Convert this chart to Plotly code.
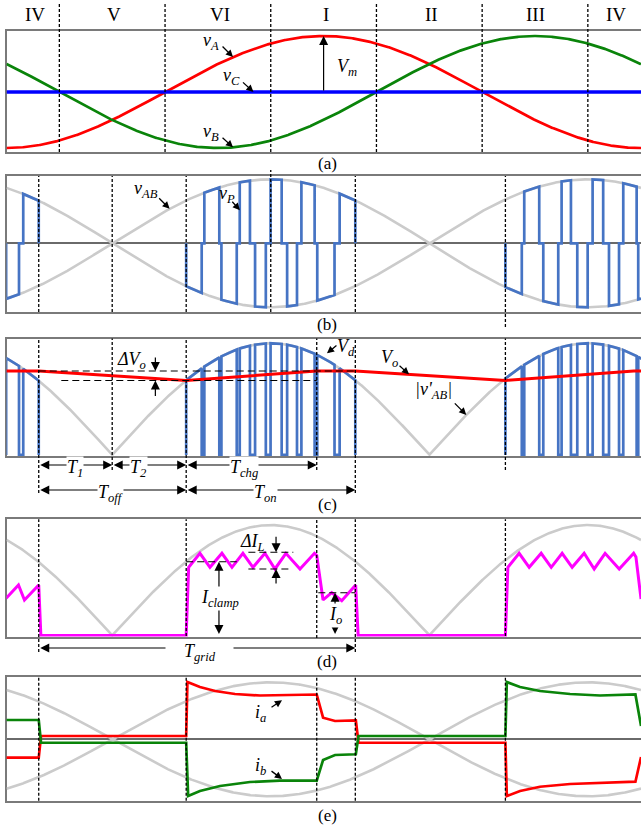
import numpy as np
import plotly.graph_objects as go

W, H = 641, 827
SERIF = "Liberation Serif"

# ---------------- data ----------------
# electrical angle in degrees, 0 deg at the positive peak of v_A
THETA_MIN, THETA_MAX = -180.0, 180.17
theta = np.linspace(THETA_MIN, THETA_MAX, 1441)

# grid phase voltages (per unit of V_m)
VM = 1.0
LAG_A = 0.0
LAG_B = 120.0
V_C = 0.0
# line-to-line voltage v_AB = sqrt(3)*Vm*cos(theta + 30 deg), shown normalised
LEAD_AB = 30.0

# sectors
SECTOR_EDGES = [-150, -90, -30, 30, 90, 150]
SECTOR_NAMES = ["IV", "V", "VI", "I", "II", "III", "IV"]
SECTOR_MIDS = [-164, -119, -59, 1.5, 61, 120.5, 166]

# switching instants (deg)
T_OFF_START = -161.7
T_ZERO = -120.0
T_ON_START = -78.0
T_PEAK_AB = -30.0
T_CHG_END = -3.9
T_ON_END = 18.0
T_ON_START_2 = 103.2

# PWM pulses of v_P: (start, end, polarity)
PULSES = [
    [(-180.2, -172.9, -1), (-170.5, -161.7, 1)],
    [(-78.0, -69.2, -1), (-67.7, -59.2, 1), (-58.0, -49.3, -1), (-47.6, -41.8, 1),
     (-38.9, -32.8, -1), (-30.1, -23.8, 1), (-20.7, -15.1, -1), (-12.6, -5.1, 1),
     (-3.6, 6.2, -1), (9.1, 18.0, 1)],
    [(103.2, 112.5, -1), (113.9, 122.4, 1), (124.7, 133.2, -1), (135.1, 140.4, 1),
     (144.0, 149.9, -1), (152.7, 158.7, 1), (162.0, 167.7, -1), (170.1, 177.7, 1),
     (178.6, 185.0, -1)],
]

# output voltage V_o (normalised to the |v'_AB| peak)
VO_T = [-180.2, -161.7, -78.0, -3.9, 18.0, 103.2, 176.1, 180.2]
VO_V = [0.752, 0.752, 0.667, 0.752, 0.752, 0.667, 0.752, 0.752]
DVO_LINE_START = -148.9

# inductor current i_L
IL_T = [-180.2, -173.2, -169.8, -161.7, -160.5,
        -78.0, -76.6, -70.2, -64.5, -57.7, -52.0, -45.8, -40.1, -33.3, -27.6,
        -21.4, -13.4, -5.2, -3.9,
        -0.3, 4.6, 10.3, 18.2, 19.6,
        103.2, 104.6, 111.0, 116.7, 123.5, 129.2, 135.4, 141.1, 147.9, 153.6,
        159.8, 167.8, 176.0, 177.3, 180.2]
IL_V = [0.337, 0.457, 0.321, 0.457, 0.0,
        0.0, 0.617, 0.744, 0.617, 0.744, 0.617, 0.744, 0.617, 0.744, 0.602,
        0.744, 0.602, 0.744, 0.725,
        0.321, 0.387, 0.315, 0.457, 0.0,
        0.0, 0.617, 0.744, 0.617, 0.744, 0.617, 0.744, 0.617, 0.744, 0.602,
        0.744, 0.602, 0.744, 0.71, 0.33]
I_CLAMP = 0.668
IL_UPPER = 0.753
IL_LOWER = 0.602
I_O = 0.387

# grid-side currents i_a, i_b (normalised to the v_AB peak scale)
IA_T = [-180.2, -161.7, -160.4, -78.0, -77.3, -70.2, -61.6, -50.3, -36.1, -19.1,
        -3.9, -0.3, 6.5, 18.3, 19.8, 103.2, 104.0, 111.5, 122.8, 139.9, 156.9,
        177.0, 180.2]
IA_V = [-0.323, -0.323, 0.058, 0.058, 1.005, 0.918, 0.847, 0.795, 0.768, 0.777,
        0.786, 0.379, 0.321, 0.33, -0.06, -0.06, -0.995, -0.907, -0.832, -0.784,
        -0.761, -0.744, -0.31]
IB_T = [-180.2, -162.4, -161.7, -160.4, -78.0, -76.9, -70.2, -58.8, -41.8, -24.8,
        -3.9, -0.3, 6.5, 18.3, 19.8, 103.2, 104.0, 111.5, 122.8, 139.9, 156.9,
        177.0, 180.2]
IB_V = [0.339, 0.351, 0.339, -0.06, -0.06, -0.995, -0.907, -0.819, -0.749, -0.726,
        -0.726, -0.363, -0.275, -0.263, 0.058, 0.058, 1.005, 0.918, 0.847, 0.795,
        0.768, 0.786, 0.233]


# ---------------- waveforms ----------------
def v_a(t):
    return VM * np.cos(np.radians(np.asarray(t) - LAG_A))


def v_b(t):
    return VM * np.cos(np.radians(np.asarray(t) - LAG_B))


def v_ab(t):
    return np.cos(np.radians(np.asarray(t) + LEAD_AB))


def env(t):
    return np.abs(v_ab(t))


def pulse_path(sets, rectify):
    xs, ys = [], []
    for pulses in sets:
        for t0, t1, pol in pulses:
            sign = 1.0 if rectify else float(pol)
            tt = np.linspace(t0, t1, 10)
            xs += [t0] + list(tt) + [t1]
            ys += [0.0] + list(sign * env(tt)) + [0.0]
        xs.append(None)
        ys.append(None)
    return xs, ys


# ---------------- panel geometry ----------------
# (top px, bottom px, y-range)
PANELS = [
    (31.0, 152.0, (-1.0714, 1.0893)),
    (176.0, 312.0, (-1.0734, 1.0516)),
    (338.5, 456.0, (-0.01, 1.043)),
    (519.3, 636.5, (-0.01, 1.052)),
    (677.3, 800.7, (-1.077, 1.0877)),
]
XR = ["x", "x2", "x3", "x4", "x5"]
YR = ["y", "y2", "y3", "y4", "y5"]
X_DOMAIN = [6.5 / W, 1.0]
DEG_PER_PX = (THETA_MAX - THETA_MIN) / (W * (X_DOMAIN[1] - X_DOMAIN[0]))


def P(py):
    return 1.0 - py / H


def units_per_px(k):
    top, bottom, yr = PANELS[k]
    return (yr[1] - yr[0]) / (bottom - top)


GRAY = "#cbcbcb"
FRAME = "#7a7a7a"
BLUE = "#4674c4"
RED = "#ff0000"
GREEN = "#0a840a"
MAGENTA = "#ff00ff"

fig = go.Figure()


def add_line(k, x, y, color, width):
    fig.add_trace(go.Scatter(x=x, y=y, mode="lines", xaxis=XR[k], yaxis=YR[k],
                             line=dict(color=color, width=width),
                             hoverinfo="skip", showlegend=False))


# (a) phase voltages
add_line(0, theta, v_a(theta), RED, 2.7)
add_line(0, theta, v_b(theta), GREEN, 2.7)
add_line(0, [THETA_MIN, THETA_MAX], [V_C, V_C], "#0000ff", 3.5)

# (b) v_AB and v_P
add_line(1, theta, v_ab(theta), GRAY, 2.6)
add_line(1, theta, -v_ab(theta), GRAY, 2.6)
bx, by = pulse_path(PULSES, rectify=False)
add_line(1, bx, by, BLUE, 2.7)

# (c) |v'_AB|, rectified pulses and V_o
add_line(2, theta, env(theta), GRAY, 2.6)
cx, cy = pulse_path(PULSES, rectify=True)
add_line(2, cx, cy, BLUE, 2.7)
add_line(2, VO_T, VO_V, RED, 3.0)

# (d) inductor current
add_line(3, theta, env(theta), GRAY, 2.6)
add_line(3, IL_T, IL_V, MAGENTA, 3.0)

# (e) grid currents
add_line(4, theta, v_ab(theta), GRAY, 2.6)
add_line(4, theta, -v_ab(theta), GRAY, 2.6)
add_line(4, IA_T, IA_V, RED, 2.7)
add_line(4, IB_T, IB_V, GREEN, 2.7)

# ---------------- axes ----------------
layout_axes = {}
for k, (top, bottom, yr) in enumerate(PANELS):
    sx = "" if k == 0 else str(k + 1)
    layout_axes["xaxis" + sx] = dict(
        domain=X_DOMAIN, range=[THETA_MIN, THETA_MAX], anchor=YR[k],
        showline=True, mirror=True, linecolor=FRAME, linewidth=2,
        showgrid=False, zeroline=False, showticklabels=False, ticks="",
        layer="below traces", fixedrange=True)
    layout_axes["yaxis" + sx] = dict(
        domain=[P(bottom), P(top)], range=list(yr), anchor=XR[k],
        showline=True, mirror=False, linecolor=FRAME, linewidth=2,
        showgrid=False, zeroline=(k in (1, 4)), zerolinecolor="#6a6a6a",
        zerolinewidth=2, showticklabels=False, ticks="",
        layer="below traces", fixedrange=True)

# ---------------- shapes ----------------
shapes = []
VDASH = dict(color="black", width=1.3, dash="3px,2px")
HDASH = dict(color="black", width=1.1, dash="7px,4px")


def vdash(k, x, py0, py1):
    shapes.append(dict(type="line", xref=XR[k], yref="paper", x0=x, x1=x,
                       y0=P(py1), y1=P(py0), line=VDASH, layer="above"))


def hdash(k, y, x0, x1):
    shapes.append(dict(type="line", xref=XR[k], yref=YR[k], x0=x0, x1=x1,
                       y0=y, y1=y, line=HDASH, layer="above"))


for e in SECTOR_EDGES:
    vdash(0, e, 2, 152)

for t, a, b in [(T_OFF_START, 176, 312), (T_ZERO, 176, 312), (T_ON_START, 176, 312),
                (T_PEAK_AB, 170, 312), (T_ON_END, 176, 312), (T_ON_START_2, 176, 327)]:
    vdash(1, t, a, b)

for t, a, b in [(T_OFF_START, 338.5, 493), (T_ZERO, 338.5, 470), (T_ON_START, 338.5, 493),
                (T_CHG_END, 338.5, 470), (T_ON_END, 338.5, 493), (T_ON_START_2, 338.5, 470)]:
    vdash(2, t, a, b)

for t, a, b in [(T_OFF_START, 519.3, 652), (T_ON_START, 519.3, 636), (T_CHG_END, 519.3, 638),
                (T_ON_END, 519.3, 652), (T_ON_START_2, 519.3, 636)]:
    vdash(3, t, a, b)

for t in [T_OFF_START, T_ON_START, T_CHG_END, T_ON_END, T_ON_START_2]:
    vdash(4, t, 677.3, 800.7)

# ripple band of V_o
hdash(2, max(VO_V), T_OFF_START, T_ON_END)
hdash(2, min(VO_V), DVO_LINE_START, T_CHG_END)
# current levels
hdash(3, I_CLAMP, T_ON_START, -49.3)
hdash(3, IL_UPPER, -42.7, -17.2)
hdash(3, IL_LOWER, -42.7, -18.1)
hdash(3, I_O, -3.0, 17.8)

# ---------------- annotations ----------------
ann = []
LBL = 18
ARW = dict(arrowhead=2, arrowsize=1.5, arrowwidth=1.2, arrowcolor="black", standoff=0)
PTR = dict(arrowhead=2, arrowsize=1.1, arrowwidth=1.3, arrowcolor="black", standoff=0)


def label(xref, yref, x, y, s, size=LBL, bg=None, **kw):
    d = dict(xref=xref, yref=yref, x=x, y=y, text=s, showarrow=False,
             xanchor="center", yanchor="middle",
             font=dict(family=SERIF, size=size, color="black"), **kw)
    if bg:
        d["bgcolor"] = bg
    ann.append(d)


def arrow(xref, yref, x, y, ax, ay, axref="pixel", ayref="pixel", both=False, style=ARW):
    d = dict(xref=xref, yref=yref, x=x, y=y, ax=ax, ay=ay, axref=axref, ayref=ayref,
             text="", showarrow=True, **style)
    if both:
        d.update(arrowside="end+start", startarrowhead=2, startarrowsize=style["arrowsize"])
    ann.append(d)


def pointer(k, x, y, s, lab, tail):
    """label placed `lab` pixels from the point, arrow drawn from `tail` pixels to the point"""
    upp = units_per_px(k)
    label(XR[k], YR[k], x + lab[0] * DEG_PER_PX, y - lab[1] * upp, s)
    arrow(XR[k], YR[k], x, y, x + tail[0] * DEG_PER_PX, y - tail[1] * upp,
          axref=XR[k], ayref=YR[k], style=PTR)


# sector names
for name, mid in zip(SECTOR_NAMES, SECTOR_MIDS):
    label("x", "paper", mid, P(14.5), name, size=19)

# panel captions
for cap, py in [("(a)", 164), ("(b)", 324), ("(c)", 504), ("(d)", 661), ("(e)", 815)]:
    label("paper", "paper", 327 / W, P(py), cap, size=17)

# (a)
pointer(0, -51.4, float(v_a(-51.4)), "<i>v<sub>A</sub></i>", (-22, -16), (-12, -12))
pointer(0, -39.8, V_C, "<i>v<sub>C</sub></i>", (-22, -15), (-12, -11))
pointer(0, -51.4, float(v_b(-51.4)), "<i>v<sub>B</sub></i>", (-22, -15), (-12, -11))
arrow("x", "y", 0.0, float(v_a(0.0)), 0.0, V_C, axref="x", ayref="y")
label("x", "y", 13.3, 0.43, "<i>V<sub>m</sub></i>")

# (b)
pointer(1, -87.4, float(v_ab(-87.4)), "<i>v<sub>AB</sub></i>", (-24, -19), (-12, -12))
pointer(1, -47.5, 0.516, "<i>v<sub>P</sub></i>", (-13, -16), (-9, -10))

# (c)
label("x3", "y3", -108.8, 0.85, "<i>ΔV<sub>o</sub></i>")
arrow("x3", "y3", -95.5, max(VO_V), 0, -15)
arrow("x3", "y3", -95.5, min(VO_V), 0, 17)
pointer(2, 1.9, 0.91, "<i>V<sub>d</sub></i>", (19, -6), (11, -9))
pointer(2, 48.5, float(np.interp(48.5, VO_T, VO_V)), "<i>V<sub>o</sub></i>", (-20, -16), (-11, -10))
pointer(2, 81.0, float(env(81.0)), "<i>|v'<sub>AB</sub>|</i>", (-33, -24), (-13, -13))

for a, b, s, mid, py in [(T_OFF_START, T_ZERO, "<i>T<sub>1</sub></i>", -141.0, 465),
                         (T_ZERO, T_ON_START, "<i>T<sub>2</sub></i>", -105.0, 465),
                         (T_ON_START, T_CHG_END, "<i>T<sub>chg</sub></i>", -45.0, 465),
                         (T_OFF_START, T_ON_START, "<i>T<sub>off</sub></i>", -121.0, 490),
                         (T_ON_START, T_ON_END, "<i>T<sub>on</sub></i>", -33.0, 490)]:
    arrow("x3", "paper", b, P(py), a, 0, axref="x3", both=True)
    label("x3", "paper", mid, P(py + 3), s, bg="white", borderpad=0)

# (d)
label("x4", "y4", -40.1, 0.846, "<i>ΔI<sub>L</sub></i>")
arrow("x4", "y4", -27.0, IL_UPPER, 0, -17)
arrow("x4", "y4", -27.0, IL_LOWER, 0, 16)
arrow("x4", "y4", -59.4, I_CLAMP, -59.4, 0.0, axref="x4", ayref="y4", both=True)
label("x4", "y4", -58.8, 0.33, "<i>I<sub>clamp</sub></i>", bg="white", borderpad=0)
arrow("x4", "y4", 6.5, I_O, 6.5, 0.0, axref="x4", ayref="y4", both=True)
label("x4", "y4", 6.5, 0.18, "<i>I<sub>o</sub></i>", bg="white", borderpad=0)
arrow("x4", "paper", T_ON_END, P(648), T_OFF_START, 0, axref="x4", both=True)
label("x4", "paper", -70.4, P(652),
      "&nbsp;&nbsp;&nbsp;&nbsp;<i>T<sub>grid</sub></i>&nbsp;&nbsp;&nbsp;&nbsp;",
      bg="white", borderpad=0)

# (e)
pointer(4, -23.6, float(np.interp(-23.6, IA_T, IA_V)) - 0.09, "<i>i<sub>a</sub></i>", (-22, 13), (-12, 8))
pointer(4, -23.6, float(np.interp(-23.6, IB_T, IB_V)) + 0.03, "<i>i<sub>b</sub></i>", (-22, -12), (-12, -9))

fig.update_layout(
    width=W, height=H, autosize=False,
    margin=dict(l=0, r=0, t=0, b=0),
    paper_bgcolor="white", plot_bgcolor="white",
    showlegend=False, shapes=shapes, annotations=ann,
    **layout_axes,
)

fig.write_html("out.html")
